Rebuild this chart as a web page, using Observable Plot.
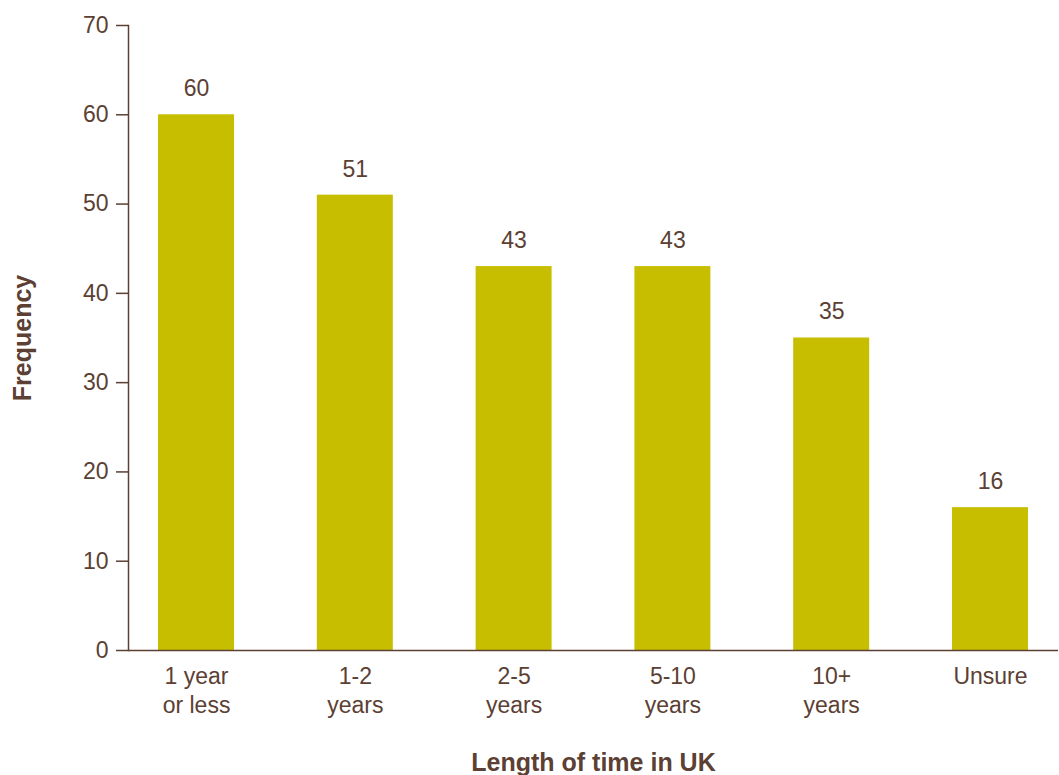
<!DOCTYPE html>
<html>
<head>
<meta charset="utf-8">
<script src="https://cdn.jsdelivr.net/npm/d3@7"></script>
<script src="https://cdn.jsdelivr.net/npm/@observablehq/plot@0.6"></script>
<style>
  html, body { margin: 0; padding: 0; background: #fff; }
  #chart { width: 1059px; height: 775px; }
</style>
</head>
<body>
<div id="chart"></div>
<script>
const categories = ["1 year\nor less", "1-2\nyears", "2-5\nyears", "5-10\nyears", "10+\nyears", "Unsure"];
const values = [60, 51, 43, 43, 35, 16];
const yTicks = [0, 10, 20, 30, 40, 50, 60, 70];
const xTitle = "Length of time in UK";
const yTitle = "Frequency";

const data = categories.map((c, i) => ({category: c, value: values[i]}));

const ink = "#5b4033";
const barColor = "#c8be00";
const font = "'Liberation Sans', Arial, Helvetica, sans-serif";

const chart = Plot.plot({
  width: 1059,
  height: 775,
  marginLeft: 128,
  marginRight: 1,
  marginTop: 25,
  marginBottom: 125,
  style: {fontFamily: font, color: ink, background: "#fff", overflow: "visible"},
  x: {domain: categories, paddingInner: 0.5214, paddingOuter: 0.189, round: false, label: null},
  y: {domain: [0, 70], label: null},
  marks: [
    Plot.barY(data, {x: "category", y: "value", fill: barColor}),
    Plot.text(data, {x: "category", y: "value", text: d => String(d.value), dy: -26, fill: ink, fontSize: 23, lineAnchor: "middle"}),
    Plot.axisY({ticks: yTicks, tickSize: 12, tickPadding: 8, stroke: ink, strokeWidth: 1.5, fill: ink, fontSize: 23, label: null}),
    Plot.axisX({tickSize: 0, tickPadding: 13, fill: ink, fontSize: 23, lineHeight: 1.26, label: null}),
    Plot.frame({anchor: "left", stroke: ink, strokeWidth: 1.5}),
    Plot.ruleY([0], {stroke: ink, strokeWidth: 1.5}),
    Plot.text([yTitle], {frameAnchor: "left", dx: -106, rotate: -90, textAnchor: "middle", fill: ink, fontSize: 25, fontWeight: "bold", lineAnchor: "middle"}),
    Plot.text([xTitle], {frameAnchor: "bottom", dy: 112, textAnchor: "middle", fill: ink, fontSize: 25, fontWeight: "bold", lineAnchor: "middle"})
  ]
});
document.getElementById("chart").appendChild(chart);
</script>
</body>
</html>
